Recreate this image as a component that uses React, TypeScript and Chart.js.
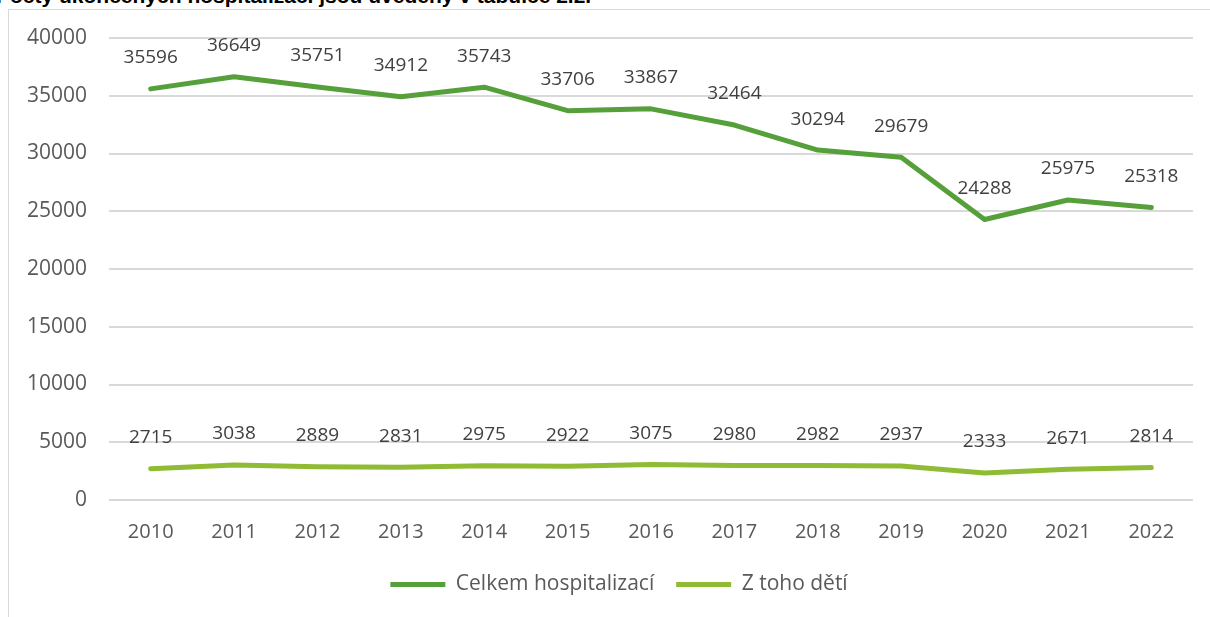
import React, { useEffect, useRef } from "react";
import { Chart, registerables } from "chart.js";

Chart.register(...registerables);

const years = ["2010", "2011", "2012", "2013", "2014", "2015", "2016", "2017", "2018", "2019", "2020", "2021", "2022"];
const totalHosp = [35596, 36649, 35751, 34912, 35743, 33706, 33867, 32464, 30294, 29679, 24288, 25975, 25318];
const childHosp = [2715, 3038, 2889, 2831, 2975, 2922, 3075, 2980, 2982, 2937, 2333, 2671, 2814];
const seriesNames = ["Celkem hospitalizací", "Z toho dětí"];
const titleText = "Počty ukončených hospitalizací jsou uvedeny v tabulce 2.2.";

const FONT = "'Open Sans', 'Noto Sans', sans-serif";

const labelPlugin = {
  id: "pointLabels",
  afterDatasetsDraw(chart: any) {
    const ctx = chart.ctx;
    ctx.save();
    ctx.font = `19px ${FONT}`;
    ctx.fillStyle = "#404040";
    ctx.textAlign = "center";
    ctx.textBaseline = "middle";
    chart.data.datasets.forEach((ds: any, di: number) => {
      const meta = chart.getDatasetMeta(di);
      meta.data.forEach((pt: any, i: number) => {
        ctx.fillText(String(ds.data[i]), pt.x, pt.y - 31);
      });
    });
    ctx.restore();
  },
};

// shift the legend block slightly right, as in the reference layout
const legendShift = {
  id: "legendShift",
  afterLayout(chart: any) {
    const l = chart.legend;
    if (l) {
      l.left += 18;
      l.right += 18;
    }
  },
};

export default function App() {
  const ref = useRef<HTMLCanvasElement>(null);
  useEffect(() => {
    if (!ref.current) return;
    const chart = new Chart(ref.current, {
      type: "line",
      data: {
        labels: years,
        datasets: [
          {
            label: seriesNames[0],
            data: totalHosp,
            borderColor: "#56A03B",
            backgroundColor: "#56A03B",
            borderWidth: 5,
            pointRadius: 0,
            borderCapStyle: "round",
            borderJoinStyle: "round",
            tension: 0,
          },
          {
            label: seriesNames[1],
            data: childHosp,
            borderColor: "#8FBC34",
            backgroundColor: "#8FBC34",
            borderWidth: 5,
            pointRadius: 0,
            borderCapStyle: "round",
            borderJoinStyle: "round",
            tension: 0,
          },
        ],
      },
      options: {
        animation: false,
        responsive: false,
        maintainAspectRatio: false,
        layout: { padding: { top: 28, right: 17, left: 0, bottom: 12 } },
        plugins: {
          title: { display: false },
          tooltip: { enabled: false },
          legend: {
            position: "bottom",
            labels: {
              usePointStyle: true,
              pointStyle: "line",
              pointStyleWidth: 55,
              color: "#595959",
              font: { family: FONT, size: 21 },
              padding: 22,
            },
          },
        },
        scales: {
          x: {
            offset: true,
            grid: { display: false, drawTicks: false },
            border: { display: false },
            ticks: { color: "#595959", font: { family: FONT, size: 20 }, padding: 20, maxRotation: 0 },
            afterFit: (s: any) => { s.height = 52; s.paddingLeft = 0; s.paddingRight = 0; },
          },
          y: {
            min: 0,
            max: 40000,
            ticks: {
              stepSize: 5000,
              color: "#595959",
              font: { family: FONT, size: 21 },
              padding: 22,
              callback: (v: any) => String(v),
            },
            grid: { color: "#d9d9d9", lineWidth: 2, drawTicks: false },
            border: { display: false },
            afterFit: (s: any) => { s.width = 100; s.paddingTop = 0; s.paddingBottom = 0; },
          },
        },
      },
      plugins: [labelPlugin, legendShift],
    });
    return () => chart.destroy();
  }, []);

  return (
    <div style={{ position: "fixed", left: 0, top: 0, width: 1210, height: 617, overflow: "hidden", background: "#fff" }}>
      <div style={{ position: "absolute", left: -4, top: -16, font: "bold 21px 'Liberation Sans', Arial, sans-serif", color: "#000", whiteSpace: "nowrap" }}>
        {titleText}
      </div>
      <div style={{ position: "absolute", left: 8, top: 9, width: 1220, height: 640, border: "1px solid #d9d9d9", boxSizing: "border-box" }}>
        <canvas ref={ref} width={1201} height={607} style={{ display: "block" }} />
      </div>
    </div>
  );
}
